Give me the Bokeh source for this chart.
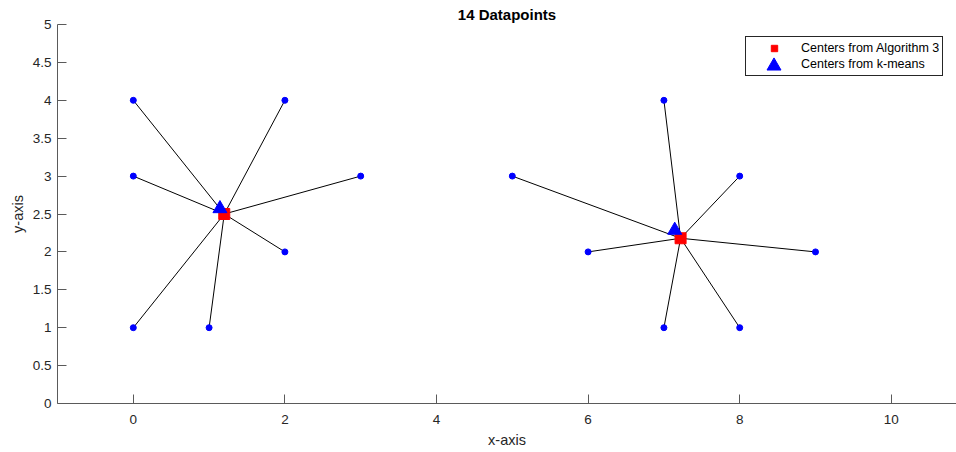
from bokeh.plotting import figure
from bokeh.models import Range1d, FixedTicker, Legend, LegendItem, ColumnDataSource
from bokeh.embed import file_html
from bokeh.resources import INLINE

# ---- data ----
point_x = [0, 0, 0, 1, 2, 3, 2, 5, 6, 7, 8, 9, 8, 7]
point_y = [4, 3, 1, 1, 2, 3, 4, 3, 2, 1, 1, 2, 3, 4]
point_cluster = [0, 0, 0, 0, 0, 0, 0, 1, 1, 1, 1, 1, 1, 1]

alg3_x = [1.2, 7.22]
alg3_y = [2.5, 2.18]

kmeans_x = [1.143, 7.143]
kmeans_y = [2.571, 2.286]

x_ticks = [0, 2, 4, 6, 8, 10]
y_ticks = [0, 0.5, 1, 1.5, 2, 2.5, 3, 3.5, 4, 4.5, 5]
y_tick_labels = ["0", "0.5", "1", "1.5", "2", "2.5", "3", "3.5", "4", "4.5", "5"]
x_tick_labels = ["0", "2", "4", "6", "8", "10"]

FONT = "Liberation Sans"
AX = "#262626"

seg_src = ColumnDataSource(dict(
    x0=point_x, y0=point_y,
    x1=[alg3_x[c] for c in point_cluster],
    y1=[alg3_y[c] for c in point_cluster],
))

p = figure(width=956, height=452, x_range=Range1d(-1, 10.86), y_range=Range1d(0, 5),
           output_backend="svg", toolbar_location=None,
           min_border_left=57, min_border_right=0, min_border_top=24, min_border_bottom=49,
           title="14 Datapoints")
p.grid.visible = False
p.outline_line_color = None
p.background_fill_color = "white"
p.border_fill_color = "white"

p.title.align = "center"
p.title.text_font = FONT
p.title.text_font_size = "15px"
p.title.text_font_style = "bold"
p.title.text_color = "black"
p.title.standoff = 4

for ax, ticks, labels, name in ((p.xaxis[0], x_ticks, x_tick_labels, "x-axis"),
                                (p.yaxis[0], y_ticks, y_tick_labels, "y-axis")):
    ax.ticker = FixedTicker(ticks=ticks)
    ax.major_label_overrides = dict(zip(ticks, labels))
    ax.major_tick_in = 9
    ax.major_tick_out = 0
    ax.minor_tick_in = 0
    ax.minor_tick_out = 0
    ax.axis_line_color = "#5a5a5a"
    ax.major_tick_line_color = "#5a5a5a"
    ax.major_label_text_font = FONT
    ax.major_label_text_font_size = "13.5px"
    ax.major_label_text_color = AX
    ax.axis_label = name
    ax.axis_label_text_font = FONT
    ax.axis_label_text_font_size = "14.5px"
    ax.axis_label_text_font_style = "normal"
    ax.axis_label_text_color = AX

p.xaxis[0].major_label_standoff = 11
p.xaxis[0].axis_label_standoff = 5
p.yaxis[0].major_label_standoff = 6
p.yaxis[0].axis_label_standoff = 4

p.segment(x0="x0", y0="y0", x1="x1", y1="y1", source=seg_src, line_color="black", line_width=1)
p.scatter(point_x, point_y, marker="circle", size=6, fill_color="#0000ff", line_color="#0000ff")
sq = p.scatter(alg3_x, alg3_y, marker="square", size=11, fill_color="#ff0000", line_color="#ff0000")
tri = p.scatter(kmeans_x, kmeans_y, marker="triangle", size=14, fill_color="#0000ff", line_color="#0000ff")

legA = Legend(items=[LegendItem(label="Centers from Algorithm 3", renderers=[sq]),
                     LegendItem(label="Centers from k-means", renderers=[tri])],
              location=(688, 327), margin=0, padding=3, spacing=0,
              glyph_width=50, glyph_height=16, label_height=14, label_standoff=2,
              label_text_font=FONT, label_text_font_size="12.5px", label_text_color="black",
              border_line_color=AX, border_line_width=1, border_line_alpha=1,
              background_fill_color="white", background_fill_alpha=1)
p.add_layout(legA)

legB = Legend(items=[LegendItem(label=" ", renderers=[tri])],
              location=(698.5, 320.5), margin=0, padding=0, spacing=0,
              glyph_width=35, glyph_height=35, label_height=0, label_width=0, label_standoff=0,
              label_text_font_size="1px",
              border_line_color=None, background_fill_alpha=0)
p.add_layout(legB)

open("out.html", "w").write(file_html(p, INLINE))
